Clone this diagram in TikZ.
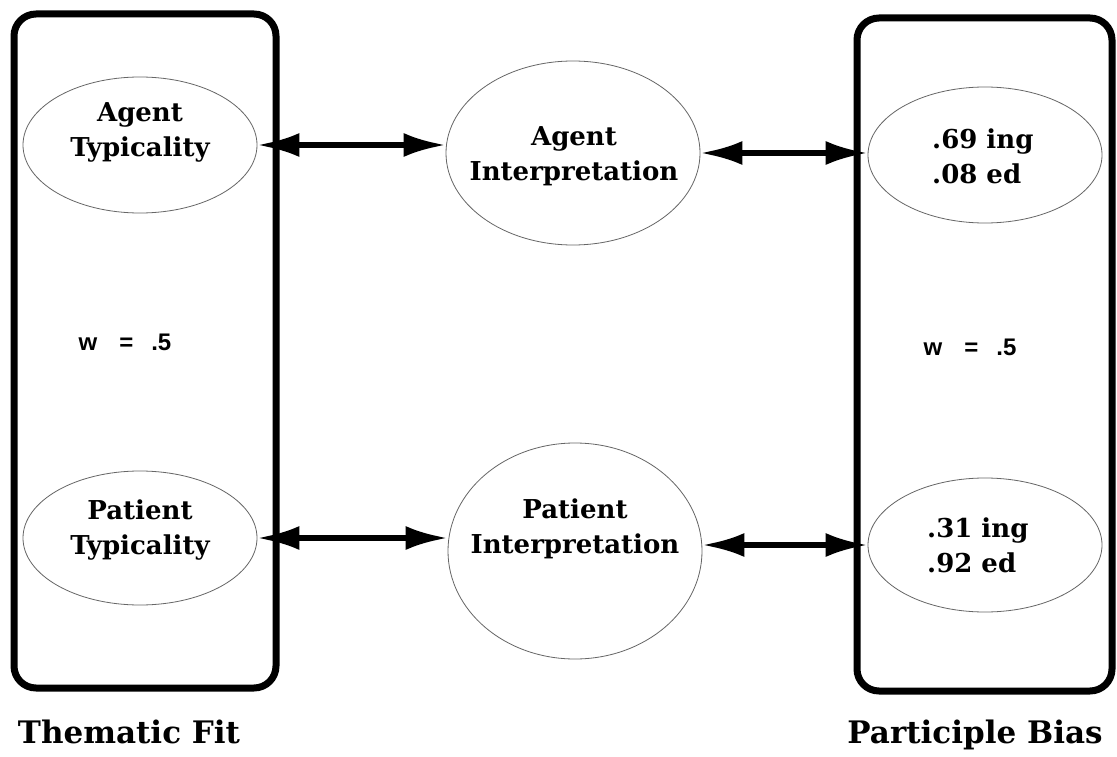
\documentclass[tikz,border=0pt]{standalone}
\usepackage{fontspec}
\newfontfamily\wfont{Liberation Sans}
\newfontfamily\labelfont{DejaVu Serif}
\usetikzlibrary{shapes.geometric,arrows.meta}
\begin{document}
\begin{tikzpicture}[x=1pt,y=-1pt,
  groupbox/.style={draw,line width=7pt,rounded corners=22pt,minimum width=#1,inner sep=0pt},
  oval/.style={draw=black!60,line width=0.8pt,ellipse,inner sep=0pt},
  otext/.style={font=\labelfont\fontsize{26}{35}\selectfont\bfseries,align=center,inner sep=0pt},
  wtext/.style={font=\wfont\fontsize{24}{28}\selectfont\bfseries,inner sep=0pt},
  caption/.style={font=\labelfont\fontsize{31}{36}\selectfont\bfseries,inner sep=0pt,anchor=base},
  link/.style={line width=5.5pt,{Latex[length=42pt,width=24pt]}-{Latex[length=42pt,width=24pt]}}]
\useasboundingbox (0,0) rectangle (1117,757);
\fill[white] (0,0) rectangle (1117,757);

% the two groups
\node[groupbox=262pt,minimum height=674pt] (tf) at (145,351) {};
\node[groupbox=255pt,minimum height=673pt] (pb) at (984.5,354.5) {};

% ovals
\node[oval,minimum width=234pt,minimum height=136pt] (at) at (140,145) {};
\node[oval,minimum width=234pt,minimum height=134pt] (pt) at (140,538) {};
\node[oval,minimum width=254pt,minimum height=184pt] (ai) at (573,153) {};
\node[oval,minimum width=254pt,minimum height=216pt] (pi) at (575,551) {};
\node[oval,minimum width=234pt,minimum height=136pt] (ab) at (985,155) {};
\node[oval,minimum width=234pt,minimum height=134pt] (pbias) at (985,545) {};

% oval texts
\node[otext] (att) at (140,132) {Agent\\Typicality};
\node[otext] (ptt) at (140,530) {Patient\\Typicality};
\node[otext] (ait) at (574,156) {Agent\\Interpretation};
\node[otext] (pit) at (575,529) {Patient\\Interpretation};
\node[otext,align=left,anchor=west] (abt) at (932,156) {.69 ing\\.08 ed};
\node[otext,align=left,anchor=west] (pbt) at (927,545) {.31 ing\\.92 ed};

% weights
\node[wtext] (wl) at (125,342) {w\hspace{22pt}=\hspace{18pt}.5};
\node[wtext] (wr) at (970,347) {w\hspace{22pt}=\hspace{18pt}.5};

% captions
\node[caption] (tfc) at (129,743) {Thematic Fit};
\node[caption] (pbc) at (975,743) {Participle Bias};

% links
\draw[link] (at.east) -- (at.east -| ai.west);
\draw[link] (ai.east) -- (ai.east -| ab.west);
\draw[link] (pt.east) -- (pt.east -| pi.west);
\draw[link] (pbias.west -| pi.east) -- (pbias.west);
\end{tikzpicture}
\end{document}
